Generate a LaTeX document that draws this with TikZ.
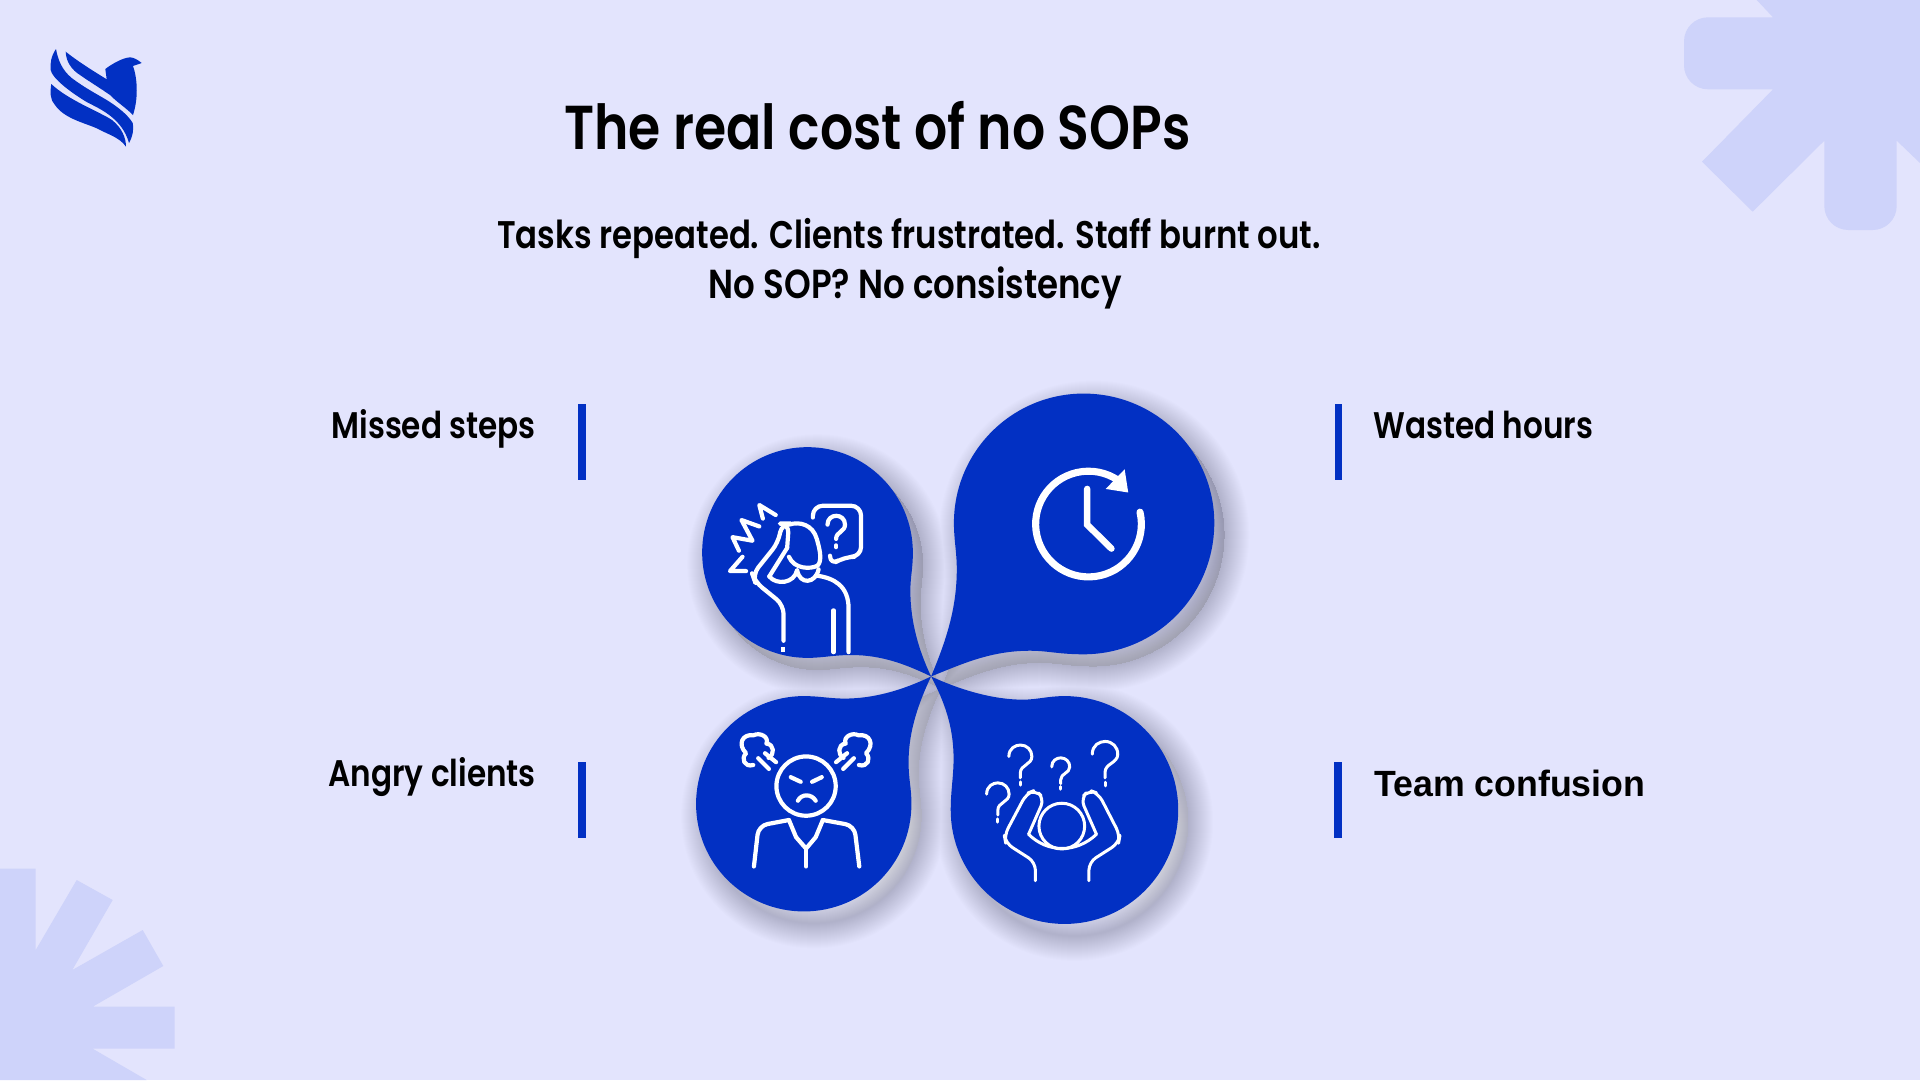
\documentclass[tikz,border=0pt]{standalone}
\usepackage{fontspec}
\setmainfont{Poppins}[FakeStretch=0.84,BoldFont={Poppins SemiBold}]
\newfontfamily\teamfont{Liberation Sans}[FakeStretch=0.978]
\definecolor{pagebg}{HTML}{E3E4FD}
\definecolor{starbg}{HTML}{CED3FA}
\definecolor{royal}{HTML}{0230C3}
\definecolor{shade}{HTML}{2C3299}
\newcommand\blobTL{(703,830) .. controls (670,760) and (645,680) .. (645,590) .. controls (645,550) and (652,530) .. (652,483) .. controls (652,320) and (520,188) .. (357,188) .. controls (194,188) and (62,320) .. (62,483) .. controls (62,646) and (194,778) .. (357,778) .. controls (400,778) and (430,770) .. (480,770) .. controls (570,770) and (640,800) .. (703,830) -- cycle}
\newcommand\blobTR{(703,830) .. controls (745,730) and (775,640) .. (775,530) .. controls (775,480) and (767,450) .. (767,400) .. controls (767,200) and (930,38) .. (1130,38) .. controls (1332,38) and (1496,200) .. (1496,400) .. controls (1496,604) and (1332,768) .. (1130,768) .. controls (1060,768) and (1030,758) .. (980,758) .. controls (870,758) and (790,795) .. (703,830) -- cycle}
\newcommand\blobBL{(703,830) .. controls (620,870) and (540,892) .. (460,892) .. controls (420,892) and (390,885) .. (347,885) .. controls (180,885) and (45,1020) .. (45,1187) .. controls (45,1354) and (180,1488) .. (347,1488) .. controls (514,1488) and (648,1354) .. (648,1187) .. controls (648,1140) and (640,1120) .. (640,1070) .. controls (640,980) and (670,900) .. (703,830) -- cycle}
\newcommand\blobBR{(703,830) .. controls (790,870) and (880,895) .. (960,895) .. controls (1000,895) and (1030,885) .. (1077,885) .. controls (1253,885) and (1395,1028) .. (1395,1204) .. controls (1395,1380) and (1253,1523) .. (1077,1523) .. controls (901,1523) and (758,1380) .. (758,1204) .. controls (758,1150) and (766,1110) .. (766,1060) .. controls (766,970) and (740,900) .. (703,830) -- cycle}
\newcommand\qmark[4]{\begin{scope}[shift={(#1,#2)},scale=#3]
\draw[#4] (-35,35) .. controls (-35,10) and (-15,0) .. (0,0) .. controls (20,0) and (35,15) .. (35,35) .. controls (35,60) and (0,60) .. (0,85) -- (0,100);
\draw[#4] (0,112) -- (0,122);
\end{scope}}
\newcommand\steam{%
\draw[ic] (205,1078) .. controls (180,1085) and (170,1060) .. (185,1045) .. controls (160,1020) and (175,990) .. (205,995) .. controls (225,985) and (250,1000) .. (242,1018) .. controls (265,1020) and (265,1050) .. (248,1058);
\draw[ic] (219,1059) -- (249,1089);
\draw[ic] (238,1045) -- (269,1070);}
\begin{document}
\begin{tikzpicture}[x=1pt, y=-1pt]
\tikzstyle{ic} = [draw=white, line width=4.2pt, line cap=round, line join=round]
\tikzstyle{thin} = [draw=white, line width=3pt, line cap=round, line join=round]
\tikzstyle{bar} = [fill=royal]
\tikzstyle{head} = [font=\fontsize{62}{66}\selectfont\bfseries, text=black, inner sep=0, anchor=base]
\tikzstyle{sub} = [text=black, inner sep=0, anchor=base]
\tikzstyle{lab} = [font=\fontsize{37}{42}\selectfont\bfseries, text=black, inner sep=0]

\useasboundingbox (0,0) rectangle (1920,1080);
\fill[pagebg] (0,0) rectangle (1920,1080);

\fill[starbg] (1756.7,0) -- (1773,17.3) [rounded corners=24pt] -- (1684,17.3) -- (1684,89.3) [sharp corners] -- (1773,89.3) -- (1702,161.7) -- (1752.7,211.7) -- (1824.3,140.7) [rounded corners=24pt] -- (1824.3,230) -- (1896.7,230) [sharp corners] -- (1896.7,140.7) -- (1920,163) -- (1920,0) -- cycle;
\fill[starbg] (0,868.7) -- (35.7,868.7) -- (35.7,950) -- (76.7,880) -- (112.7,900) -- (72.3,970) -- (142.7,930) -- (163.3,966) -- (92.7,1006.7) -- (174.7,1006.7) -- (174.7,1048.7) -- (92.7,1048.7) -- (146.7,1080) -- (0,1080) -- cycle;

\fill[royal] (65.7,51.7) .. controls (80,63) and (95,72) .. (106.7,79.3) -- (105.3,69) .. controls (112,64) and (122,58) .. (130,57.3) .. controls (134,57.5) and (138,60) .. (141.7,63) -- (133,66) .. controls (138,80) and (138,100) .. (133,115) .. controls (125,107) and (118,103) .. (110,95) .. controls (100,88) and (90,82) .. (80,75) .. controls (72,70) and (66,62) .. (65.7,51.7) -- cycle;
\fill[royal] (56,49) .. controls (51,56) and (50,64) .. (50.7,70) .. controls (52,78) and (70,92) .. (86.7,102) .. controls (100,109) and (122,118) .. (129,143) .. controls (133,136) and (134,128) .. (132.7,123) .. controls (128,115) and (118,107) .. (106.7,100) .. controls (95,93) and (85,88) .. (71.7,78) .. controls (62,70) and (58,60) .. (56,49) -- cycle;
\fill[royal] (51.3,84) .. controls (50,92) and (50,100) .. (55,105) .. controls (65,120) and (90,124) .. (100,130) .. controls (110,135) and (120,138) .. (126,146.7) .. controls (126,138) and (122,128) .. (112,120) .. controls (100,112) and (68,100) .. (51.3,84) -- cycle;

\node[head] (title) at (877.5,149) {The real cost of no SOPs};
\node[sub, font=\fontsize{38.5}{42}\selectfont\bfseries] (line1) at (909,248) {Tasks repeated. Clients frustrated. Staff burnt out.};
\node[sub, font=\fontsize{40.5}{42}\selectfont\bfseries] (line2) at (915.5,298) {No SOP? No consistency};

\node[lab, anchor=base east] (missed) at (536,438) {Missed steps};
\node[lab, anchor=base east] (angry) at (536,786) {Angry clients};
\node[lab, anchor=base west] (wasted) at (1373,438) {Wasted hours};
\node[lab, anchor=base west, font=\fontsize{36.5}{42}\selectfont\bfseries] (team) at (1374,796) {\teamfont Team confusion};

\fill[bar] (578,404) rectangle (585.7,480);
\fill[bar] (578,762) rectangle (585.7,838);
\fill[bar] (1334.5,404) rectangle (1342,480);
\fill[bar] (1334,762) rectangle (1342,838);

\begin{scope}[xshift=680pt, yshift=-380pt, x=.35714pt, y=-.35714pt]
\begin{scope}[xshift=10pt, yshift=-12pt]
\foreach \w in {2,4,...,50} {
\draw[shade, opacity=.007, line width=\w pt, line join=round] \blobTL \blobTR \blobBL \blobBR;
}
\end{scope}
\fill[royal] \blobTL;
\fill[royal] \blobTR;
\fill[royal] \blobBL;
\fill[royal] \blobBR;

% clock
\draw[draw=white, line width=7.1pt, line cap=round] (1288,370) arc[start angle=-13, end angle=305, radius=148];
\fill[white] (1245,250) -- (1255,315) -- (1192,305) -- cycle;
\draw[draw=white, line width=6.5pt, line cap=round, line join=miter] (1140,305) -- (1140,405) -- (1208,472);

% head in hands
\draw[ic] (268,378) -- (222,350) -- (232,388);
\draw[ic] (222,410) -- (172,392) -- (203,450) -- (147,440) -- (165,478);
\draw[ic] (175,495) -- (140,535) -- (185,535);
\draw[ic, rounded corners=10pt] (372,385) -- (372,352) -- (507,352) -- (507,495) -- (460,495) -- (420,520) -- (420,492);
\draw[ic] (413,405) .. controls (413,372) and (462,372) .. (462,405) .. controls (462,425) and (437,425) .. (437,445);
\draw[ic] (437,463) -- (437,468);
\draw[ic] (305,405) .. controls (335,395) and (372,405) .. (383,445) .. controls (390,470) and (400,505) .. (385,520) .. controls (365,530) and (320,530) .. (305,495);
\draw[ic, rounded corners=9pt] (300,470) -- (305,402) -- (285,402) -- (275,455) -- (203,545) -- (210,565) -- (290,630) -- (290,730);
\draw[ic] (300,470) -- (250,550);
\draw[ic] (250,550) .. controls (270,575) and (320,570) .. (328,532) .. controls (335,575) and (380,570) .. (388,530);
\draw[ic] (385,548) .. controls (430,555) and (472,575) .. (472,640) -- (472,762);
\draw[ic] (430,645) -- (430,762);
\draw[ic, line cap=butt] (289,748) -- (289,762);

% angry face
\draw[ic] (353,1137) circle[radius=83];
\draw[ic] (310,1112) -- (338,1125);
\draw[ic] (397,1112) -- (370,1125);
\draw[ic] (330,1178) .. controls (340,1158) and (368,1158) .. (380,1178);
\draw[ic, rounded corners=9pt] (207,1362) -- (220,1248) -- (305,1232);
\draw[ic] (305,1232) -- (325,1280) -- (353,1312) -- (380,1280) -- (400,1232);
\draw[ic, rounded corners=9pt] (400,1232) -- (488,1248) -- (502,1362);
\draw[ic] (353,1312) -- (353,1362);
\steam
\begin{scope}[xshift=252.1pt, xscale=-1]
\steam
\end{scope}

% confused
\draw[thin] (1069,1249) circle[radius=64];
\draw[thin, rounded corners=8pt] (995,1402) -- (995,1350) -- (912,1297) -- (908,1275) -- (970,1158) -- (995,1148) -- (1020,1172) -- (976,1272);
\draw[thin, rounded corners=8pt] (1145,1402) -- (1145,1350) -- (1228,1297) -- (1232,1275) -- (1172,1158) -- (1145,1148) -- (1122,1172) -- (1166,1272);
\draw[thin] (976,1272) .. controls (1030,1325) and (1110,1325) .. (1166,1272);
\foreach \x/\y/\s in {953/1022/.92, 1066/1058/.72, 1190/1012/1.02, 890/1128/.9} {
\qmark{\x}{\y}{\s}{thin}
}
\end{scope}
\end{tikzpicture}
\end{document}
